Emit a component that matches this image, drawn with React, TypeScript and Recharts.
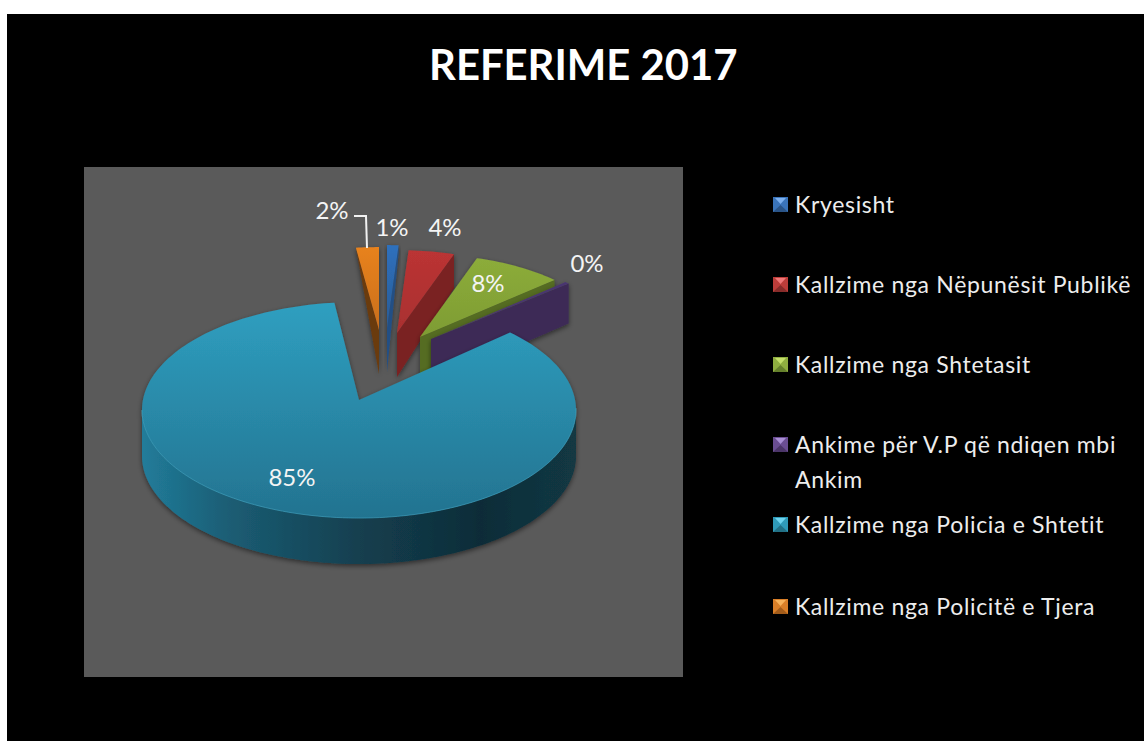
import React from "react";
import { PieChart, Pie, Legend } from "recharts";

const categories = [
  "Kryesisht",
  "Kallzime nga Nëpunësit Publikë",
  "Kallzime nga Shtetasit",
  "Ankime për V.P që ndiqen mbi Ankim",
  "Kallzime nga Policia e Shtetit",
  "Kallzime nga Policitë e Tjera",
];
const values = [1, 4, 8, 0.4, 85, 2];
const legendColors = ["#2f6db5", "#b5322f", "#87a637", "#5f4484", "#2b93b0", "#d9791f"];

// Styling tables for the hand-drawn 3D look
const topLight = ["#2e70bd", "#bb3434", "#8cac3a", "#4a3670", "#2f9fc0", "#e8821e"];
const topDark = ["#2a5c96", "#a92f2f", "#7e9c33", "#4a3670", "#237390", "#c96f1f"];
const faceColor = ["#234f85", "#7a2323", "#546c20", "#3c2a57", "#133c4b", "#6b3a10"];
const markerLight = ["#7db0ee", "#f07878", "#c4df6a", "#a98fd4", "#6fd3ee", "#f7b25a"];
const markerBase = ["#3a74ba", "#bd3d3a", "#8fae40", "#6a4d92", "#2f9ab8", "#d97f28"];
const markerDark = ["#2a5487", "#872c2a", "#65802c", "#4b3568", "#227085", "#a35c1a"];
const shiftX = [28, 38, 61, 72, 0, 20];
const shiftY = [-72, -67, -63, -61, 0, -70];
const radiusX = [0.853, 0.853, 0.853, 0.853, 1, 0.853];
const radiusY = [0.382, 0.382, 0.382, 0.382, 0.498, 0.382];
const apexOffset = [0, 0, 0, 0, 0.0926, 0];
const apexDepth = [44, 44, 44, 44, 46, 44];
const rimDepth = [8, 34, 30, 40, 46, 0];
const labelDx = [33, 86, 129, 228, -67, -27];
const labelDy = [-174, -174, -118, -138, 76, -191];

const data = categories.map((name, i) => ({ name, value: values[i], fill: legendColors[i] }));

const rimPoint = (deg: number, e: number) => {
  const a = (deg * Math.PI) / 180;
  const dx = Math.sin(a);
  const dy = Math.cos(a);
  const pd = e * dy;
  const t = -pd + Math.sqrt(pd * pd - e * e + 1);
  return { nx: dx * t, ny: e + dy * t };
};

const Slice = (props: any) => {
  const { cx, cy, outerRadius, startAngle, endAngle, index } = props;
  const from = 90 - startAngle;
  const to = 90 - endAngle;
  const ax = cx + shiftX[index];
  const ay = cy + shiftY[index];
  const rx = outerRadius * radiusX[index];
  const ry = outerRadius * radiusY[index];
  const e = apexOffset[index];
  const ellipseCy = ay + e * ry;
  const steps = Math.max(8, Math.ceil((to - from) / 1.5));
  const rim: { x: number; y: number }[] = [];
  for (let s = 0; s <= steps; s++) {
    const p = rimPoint(from + ((to - from) * s) / steps, e);
    rim.push({ x: ax + p.nx * rx, y: ellipseCy - p.ny * ry });
  }
  const top = `M${ax},${ay} ` + rim.map((r) => `L${r.x},${r.y}`).join(" ") + " Z";
  const span = to - from;
  const mid = (from + to) / 2;
  let face: string | null = null;
  if (span < 180) {
    const edge = mid < 180 ? rim[rim.length - 1] : rim[0];
    const ad = apexDepth[index];
    const rd = rimDepth[index];
    face = `M${ax},${ay} L${edge.x},${edge.y} L${edge.x},${edge.y + rd} L${ax},${ay + ad} Z`;
  }
  let wall: string | null = null;
  let rimStroke: string | null = null;
  if (span >= 180) {
    const front = rim.filter((r) => r.y >= ellipseCy - 2);
    const d = apexDepth[index];
    wall =
      "M" +
      front.map((r) => `${r.x},${r.y}`).join(" L") +
      " L" +
      [...front].reverse().map((r) => `${r.x},${r.y + d}`).join(" L") +
      " Z";
    rimStroke = "M" + front.map((r) => `${r.x},${r.y}`).join(" L");
  }
  return (
    <g filter="url(#softShadow)">
      {face && <path d={face} fill={faceColor[index]} />}
      {wall && <path d={wall} fill="url(#tealWall)" />}
      <path d={top} fill={`url(#top-${index})`} />
      {rimStroke && <path d={rimStroke} fill="none" stroke="#3ea7c6" strokeWidth={1} strokeOpacity={0.6} />}
    </g>
  );
};

const renderLabel = (props: any) => {
  const { cx, cy, percent, index } = props;
  const x = cx + labelDx[index];
  const y = cy + labelDy[index];
  return (
    <g>
      {index === 5 && (
        <polyline
          points={`${cx - 5},${cy - 184} ${cx + 7},${cy - 184} ${cx + 8},${cy - 152}`}
          fill="none"
          stroke="#f2f2f2"
          strokeWidth={2}
        />
      )}
      <text
        x={x}
        y={y}
        textAnchor="middle"
        dominantBaseline="central"
        fill="#f4f4f4"
        fontFamily="Lato, 'Open Sans', sans-serif"
        fontSize={24}
      >
        {`${Math.round(percent * 100)}%`}
      </text>
    </g>
  );
};

const Marker = ({ i }: { i: number }) => (
  <svg width={15} height={15} style={{ position: "absolute", left: 0, top: 10 }}>
    <rect width={15} height={15} fill={markerBase[i]} />
    <polygon points="2,1 13,1 7.5,7" fill={markerLight[i]} />
    <polygon points="0,15 15,15 7.5,8" fill={markerDark[i]} />
  </svg>
);

const renderLegend = (props: any) => (
  <div style={{ width: 371, fontFamily: "Lato, 'Open Sans', sans-serif", fontSize: 23, color: "#ededed" }}>
    {(props.payload || []).map((p: any, i: number) => (
      <div
        key={p.value}
        style={{
          position: "relative",
          top: i === 5 ? 2 : 0,
          height: 80,
          paddingLeft: 22,
          lineHeight: "35px",
          boxSizing: "border-box",
          letterSpacing: 0.68,
        }}
      >
        <Marker i={categories.indexOf(p.value)} />
        {p.value}
      </div>
    ))}
  </div>
);

export default function App() {
  return (
    <div style={{ position: "absolute", left: 0, top: 0, width: 1144, height: 741, background: "#fff", overflow: "hidden" }}>
      <div style={{ position: "absolute", left: 7, top: 14, width: 1137, height: 727, background: "#000" }} />
      <div style={{ position: "absolute", left: 84, top: 167, width: 599, height: 510, background: "#5a5a5a" }} />
      <div
        style={{
          position: "absolute",
          left: 429,
          top: 36,
          fontFamily: "Lato, sans-serif",
          fontWeight: 700,
          fontSize: 41.8,
          lineHeight: "56px",
          color: "#fff",
          whiteSpace: "nowrap",
        }}
      >
        REFERIME 2017
      </div>
      <div style={{ position: "absolute", left: 0, top: 0 }}>
        <PieChart width={1144} height={741} margin={{ top: 0, right: 0, bottom: 0, left: 0 }}>
          <defs>
            <filter id="softShadow" x="-20%" y="-20%" width="140%" height="140%">
              <feDropShadow dx={0} dy={2} stdDeviation={2.5} floodColor="#000" floodOpacity={0.5} />
            </filter>
            <linearGradient id="tealWall" x1="0" y1="0" x2="1" y2="0">
              <stop offset="0" stopColor="#217c9a" />
              <stop offset="0.2" stopColor="#1b5d74" />
              <stop offset="0.5" stopColor="#133f4f" />
              <stop offset="0.78" stopColor="#0f2c38" />
              <stop offset="1" stopColor="#123843" />
            </linearGradient>
            {categories.map((_, i) => (
              <linearGradient key={`t${i}`} id={`top-${i}`} x1="0" y1="0" x2="0" y2="1">
                <stop offset="0" stopColor={topLight[i]} />
                <stop offset="1" stopColor={topDark[i]} />
              </linearGradient>
            ))}
          </defs>
          <Pie
            data={data}
            dataKey="value"
            nameKey="name"
            cx={359}
            cy={400}
            innerRadius={0}
            outerRadius={217}
            startAngle={90}
            endAngle={-270}
            stroke="none"
            shape={Slice}
            label={renderLabel}
            labelLine={false}
            isAnimationActive={false}
          />
          <Legend
            layout="vertical"
            align="right"
            verticalAlign="top"
            itemSorter={null}
            content={renderLegend}
            wrapperStyle={{ position: "absolute", left: 773, top: 187, width: 371 }}
          />
        </PieChart>
      </div>
    </div>
  );
}
